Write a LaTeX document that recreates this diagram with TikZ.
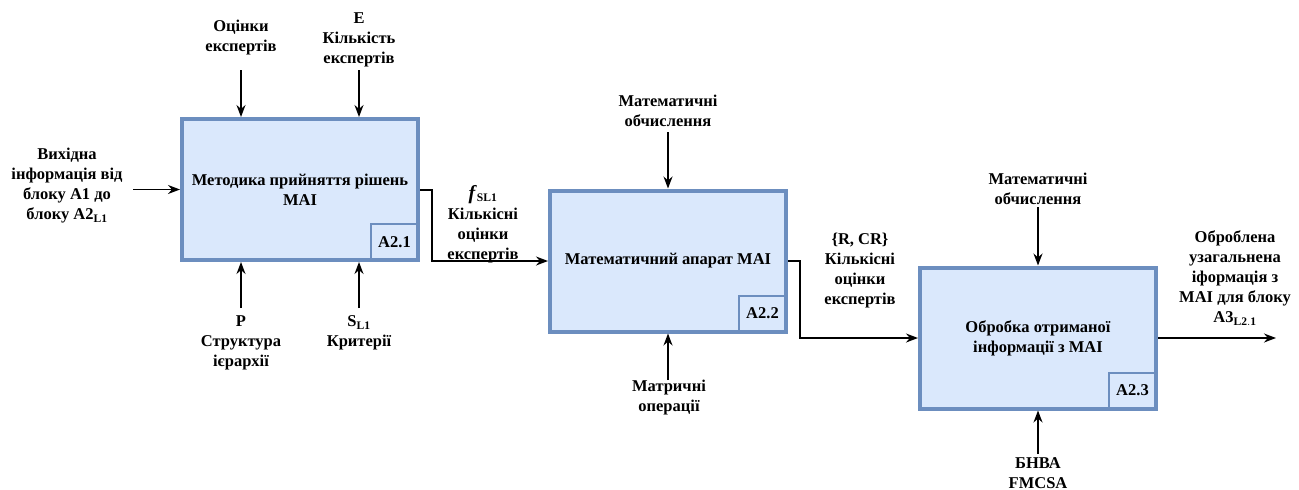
\documentclass[tikz,border=0pt]{standalone}
\usepackage{fontspec}
\setmainfont{Liberation Serif}
\usetikzlibrary{arrows.meta}
\definecolor{boxfill}{HTML}{DAE8FC}
\definecolor{boxline}{HTML}{6C8EBF}
\tikzset{
  blockbox/.style={draw=boxline, fill=boxfill, line width=4pt, minimum width=236pt, minimum height=141pt, inner sep=0pt, align=center, font=\fontsize{16.5}{20}\selectfont\bfseries},
  tagbox/.style={draw=boxline, line width=2pt, minimum width=47pt, minimum height=36pt, inner sep=0pt, anchor=south east, font=\fontsize{16.5}{20}\selectfont\bfseries},
  lbl/.style={align=center, inner sep=0pt, font=\fontsize{16.5}{20}\selectfont\bfseries},
  arr/.style={line width=1.5pt, -{Stealth[length=12pt,width=9pt]}},
}
\begin{document}
\begin{tikzpicture}[x=1pt,y=-1pt]
\useasboundingbox (0,0) rectangle (1299,490);
% blocks
\node[blockbox] (b1) at (300,189.5) {Методика прийняття рішень\\MAI};
\node[tagbox] (t1) at ([xshift=-1pt,yshift=1pt]b1.south east) {A2.1};
\node[blockbox] (b2) at (668,261) {Математичний апарат MAI};
\node[tagbox] (t2) at ([xshift=-1pt,yshift=1pt]b2.south east) {A2.2};
\node[blockbox] (b3) at (1038,338) {Обробка отриманої\\інформації з MAI};
\node[tagbox] (t3) at ([xshift=-1pt,yshift=1pt]b3.south east) {A2.3};
% labels
\node[lbl] (lin) at (67,186) {Вихідна\\інформація від\\блоку A1 до\\блоку A2$_{\mathbf{L1}}$};
\node[lbl] (lc11) at (241,38) {Оцінки\\експертів};
\node[lbl] (lc12) at (359,40) {E\\Кількість\\експертів};
\node[lbl] (lm11) at (241,343) {P\\Структура\\ієрархії};
\node[lbl] (lm12) at (359,333) {S$_{\mathbf{L1}}$\\Критерії};
\node[lbl] (lo1) at (483,224) {{\fontsize{20}{20}\selectfont\textit{f}}$_{\mathbf{SL1}}$\\Кількісні\\оцінки\\експертів};
\node[lbl] (lc2) at (668,111) {Математичні\\обчислення};
\node[lbl] (lm2) at (669,398) {Матричні\\операції};
\node[lbl] (lo2) at (860,271) {\{R, CR\}\\Кількісні\\оцінки\\експертів};
\node[lbl] (lc3) at (1038,189) {Математичні\\обчислення};
\node[lbl] (lout) at (1235,278) {Оброблена\\узагальнена\\іформація з\\MAI для блоку\\A3$_{\mathbf{L2.1}}$};
\node[lbl] (lm3) at (1038,473) {БНВА\\FMCSA};
% free ends
\coordinate (in1) at (133,189.5);
\coordinate (c11) at (241,70);
\coordinate (c12) at (359,70);
\coordinate (m11) at (241,308);
\coordinate (m12) at (359,308);
\coordinate (c2) at (668,132);
\coordinate (m2) at (668,380);
\coordinate (c3) at (1038,207);
\coordinate (m3) at (1038,454);
\coordinate (out3) at (1276,338);
\coordinate (j1) at (432,190);
\coordinate (j2) at (800,261);
% connectors
\draw[arr] (in1) -- (in1 -| b1.west);
\draw[arr] (c11) -- (c11 |- b1.north);
\draw[arr] (c12) -- (c12 |- b1.north);
\draw[arr] (m11) -- (m11 |- b1.south);
\draw[arr] (m12) -- (m12 |- b1.south);
\draw[arr] (b1.east |- j1) -- (j1) |- (b2.west);
\draw[arr] (c2) -- (c2 |- b2.north);
\draw[arr] (m2) -- (m2 |- b2.south);
\draw[arr] (b2.east) -- (j2) |- (b3.west);
\draw[arr] (c3) -- (c3 |- b3.north);
\draw[arr] (m3) -- (m3 |- b3.south);
\draw[arr] (b3.east) -- (out3);
\end{tikzpicture}
\end{document}
